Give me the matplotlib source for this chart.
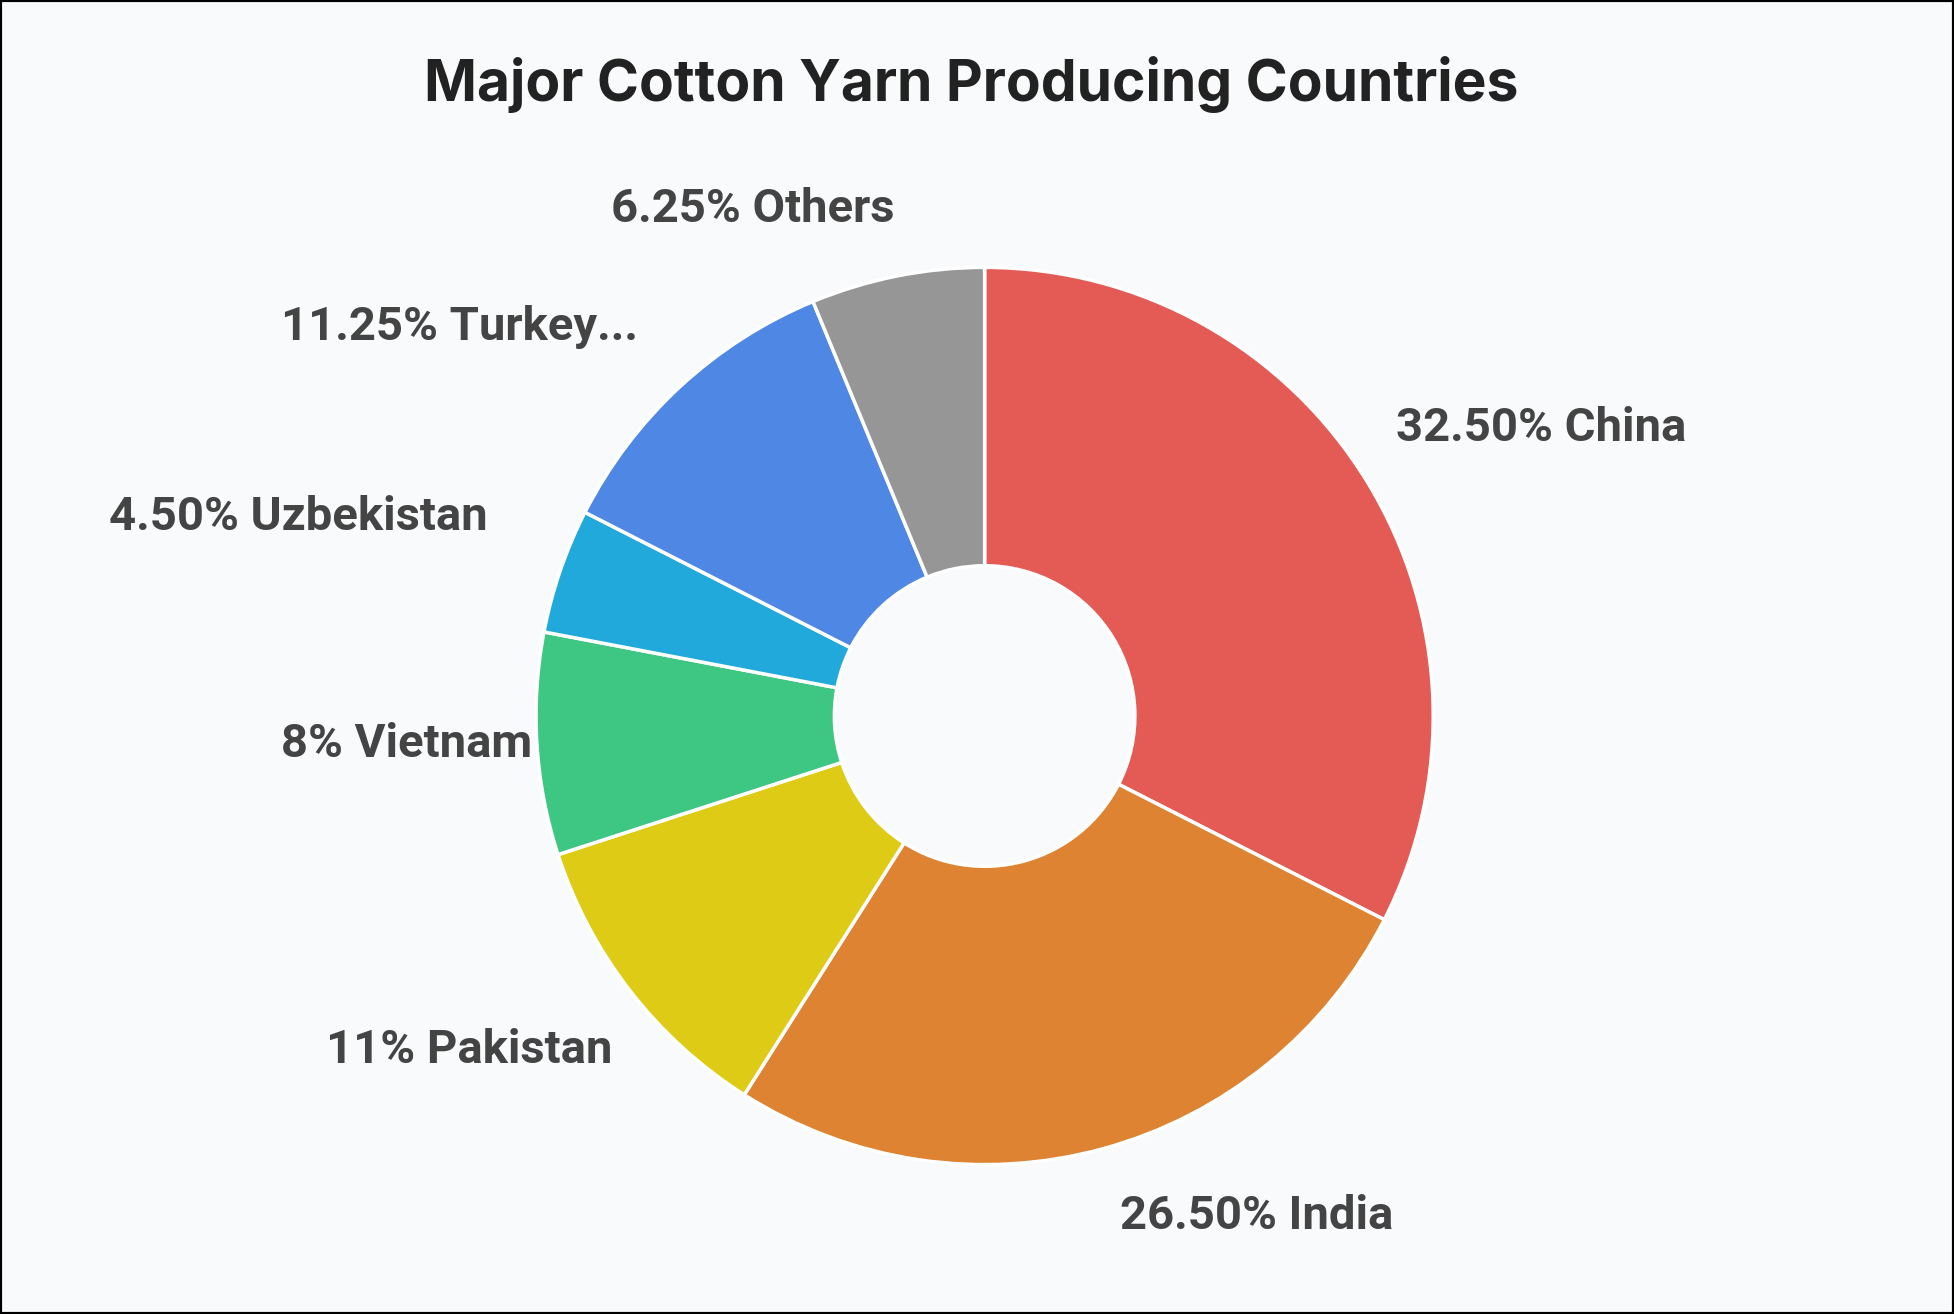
import numpy as np
import matplotlib
matplotlib.use("Agg")
import matplotlib.pyplot as plt

countries = ["China", "India", "Pakistan", "Vietnam", "Uzbekistan", "Turkey...", "Others"]
shares = [32.5, 26.5, 11, 8, 4.5, 11.25, 6.25]
share_labels = ["32.50%", "26.50%", "11%", "8%", "4.50%", "11.25%", "6.25%"]
colors = ["#E45A55", "#DD8332", "#DDCB16", "#3EC683", "#20A9DA", "#4F87E5", "#969696"]

fig = plt.figure(figsize=(19.54, 13.14), dpi=100, facecolor="#F8FAFC")
ax = fig.add_axes([0, 0, 1, 1])
ax.set_facecolor("#F8FAFC")
ax.pie(shares, colors=colors, startangle=90, counterclock=False, radius=1,
       wedgeprops=dict(width=0.665, edgecolor="white", linewidth=2.5))
ax.set_xlim(-2.195, 2.161)
ax.set_ylim(-1.333, 1.596)
ax.set_aspect("auto")
ax.axis("off")

label_r = [1.15, 1.14, 1.15, 1.01, 1.17, 1.18, 1.16]
label_off = [(-0.064, 0.042), (0.0, -0.014), (0.078, -0.039), (0.0, 0.0),
             (0.0, 0.064), (0.028, 0.0), (0.025, -0.008)]
cum = np.cumsum([0] + shares[:-1])
total = sum(shares)
for i, (c, s) in enumerate(zip(countries, share_labels)):
    mid = cum[i] + shares[i] / 2
    ang = np.deg2rad(90 - 360 * mid / total)
    x = label_r[i] * np.cos(ang) + label_off[i][0]
    y = label_r[i] * np.sin(ang) + label_off[i][1]
    ha = "left" if np.cos(ang) > 0 else "right"
    ax.text(x, y, f"{s} {c}", ha=ha, va="center", fontsize=34, fontweight="bold",
            color="#444444", family=["Roboto", "DejaVu Sans"])

fig.text(0.497, 0.936, "Major Cotton Yarn Producing Countries", ha="center", va="center",
         fontsize=41, fontweight="bold", color="#222222", family=["Inter", "DejaVu Sans"])
fig.patches.append(plt.Rectangle((0, 0), 1, 1, transform=fig.transFigure, fill=False,
                                 edgecolor="black", linewidth=3))
fig.savefig("out.png", dpi=100, facecolor=fig.get_facecolor())
